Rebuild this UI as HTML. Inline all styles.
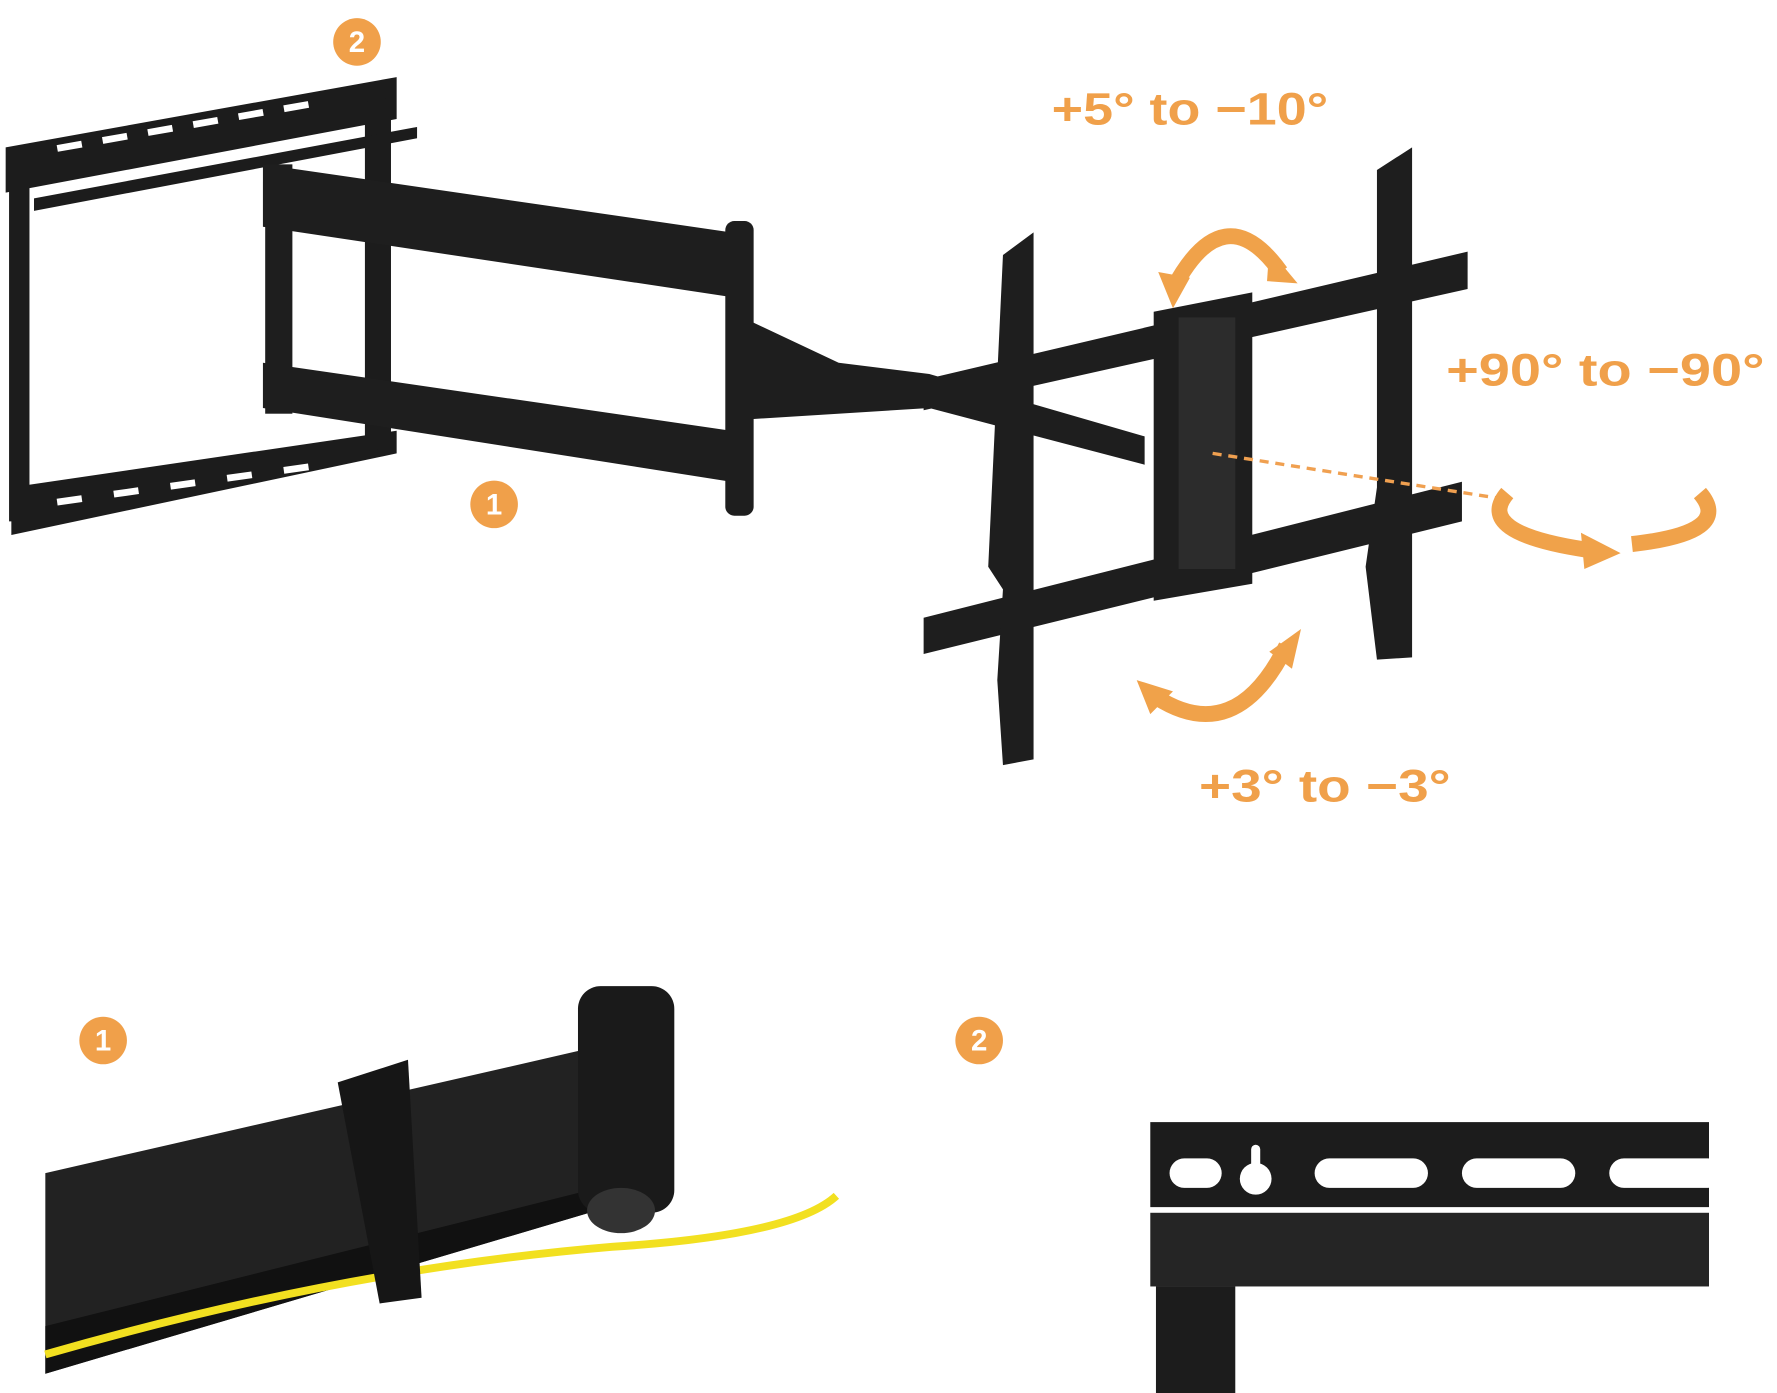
<!DOCTYPE html>
<html><head><meta charset="utf-8"><style>
html,body{margin:0;padding:0;background:#fff;width:1777px;height:1393px;overflow:hidden}
svg{display:block}
text{font-family:"Liberation Sans",sans-serif;font-weight:bold}
</style></head><body>
<svg width="1777" height="1393" viewBox="0 0 1568 1229" preserveAspectRatio="none" xmlns="http://www.w3.org/2000/svg">
<rect width="1568" height="1229" fill="#fff"/>
<g fill="#1c1c1c">
<polygon points="5,130 350,68 350,105 5,170"/>
<polygon points="10,430 350,380 350,400 10,472"/>
<rect x="8" y="160" width="18" height="300"/>
<polygon points="322,90 345,86 345,395 322,398"/>
<polygon points="30,175 368,112 368,122 30,186"/>
</g>
<g fill="#fff">
<rect x="50" y="128" width="22" height="6" transform="rotate(-10 50 128)"/>
<rect x="90" y="121" width="22" height="6" transform="rotate(-10 90 121)"/>
<rect x="130" y="114" width="22" height="6" transform="rotate(-10 130 114)"/>
<rect x="170" y="107" width="22" height="6" transform="rotate(-10 170 107)"/>
<rect x="210" y="100" width="22" height="6" transform="rotate(-10 210 100)"/>
<rect x="250" y="93" width="22" height="6" transform="rotate(-10 250 93)"/>
<rect x="50" y="440" width="22" height="6" transform="rotate(-8 50 440)"/>
<rect x="100" y="433" width="22" height="6" transform="rotate(-8 100 433)"/>
<rect x="150" y="426" width="22" height="6" transform="rotate(-8 150 426)"/>
<rect x="200" y="419" width="22" height="6" transform="rotate(-8 200 419)"/>
<rect x="250" y="412" width="22" height="6" transform="rotate(-8 250 412)"/>
</g>
<g fill="#1e1e1e">
<polygon points="232,145 645,205 645,262 232,200"/>
<polygon points="232,320 645,380 645,425 232,360"/>
<rect x="234" y="145" width="24" height="220"/>
<rect x="640" y="195" width="25" height="260" rx="8"/>
<polygon points="655,280 740,320 820,330 1010,385 1010,410 820,360 660,370"/>
</g>
<g fill="#1e1e1e">
<polygon points="815,335 1295,222 1295,255 815,362"/>
<polygon points="815,545 1290,425 1290,460 815,577"/>
<polygon points="885,225 912,205 912,670 885,675 880,600 885,520 872,500"/>
<polygon points="1215,150 1246,130 1246,580 1215,582 1205,500 1215,430"/>
<polygon points="1018,275 1105,258 1105,515 1018,530"/>
</g>
<rect x="1040" y="280" width="50" height="222" fill="#2c2c2c"/>
<line x1="1070" y1="400" x2="1325" y2="440" stroke="#f0a050" stroke-width="3" stroke-dasharray="8,6"/>
<g fill="none" stroke="#f0a24a" stroke-width="14">
<path d="M1035,255 Q1080,170 1130,240"/>
<path d="M1020,615 Q1090,660 1135,570"/>
<path d="M1330,435 Q1300,470 1400,485"/>
<path d="M1440,480 Q1530,470 1500,435"/>
</g>
<g fill="#f0a24a">
<polygon points="1022,240 1050,245 1035,272"/>
<polygon points="1120,220 1145,250 1118,248"/>
<polygon points="1003,600 1035,610 1015,630"/>
<polygon points="1148,555 1140,590 1120,575"/>
<polygon points="1395,470 1430,488 1398,502"/>
</g>
<text x="928" y="110" font-size="40" fill="#f0a04a" textLength="244" lengthAdjust="spacingAndGlyphs">+5° to −10°</text>
<text x="1276" y="340" font-size="40" fill="#f0a04a" textLength="281" lengthAdjust="spacingAndGlyphs">+90° to −90°</text>
<text x="1058" y="707" font-size="40" fill="#f0a04a" textLength="222" lengthAdjust="spacingAndGlyphs">+3° to −3°</text>
<g fill="#f0a04a"><circle cx="315" cy="37" r="21"/><circle cx="436" cy="445" r="21"/><circle cx="91" cy="918" r="21"/><circle cx="864" cy="918" r="21"/></g>
<g fill="#fff" font-size="26" text-anchor="middle">
<text x="315" y="46">2</text><text x="436" y="454">1</text><text x="91" y="927">1</text><text x="864" y="927">2</text></g>
<polygon points="40,1035 520,925 520,1070 40,1212" fill="#222"/>
<polygon points="40,1170 520,1050 520,1070 40,1212" fill="#111"/>
<path d="M40,1195 Q300,1120 540,1100 Q700,1090 738,1055" stroke="#f2e020" stroke-width="7" fill="none"/>
<rect x="510" y="870" width="85" height="200" rx="20" fill="#1a1a1a"/>
<ellipse cx="548" cy="1068" rx="30" ry="20" fill="#333"/>
<polygon points="298,955 360,935 372,1145 335,1150" fill="#161616"/>
<rect x="1015" y="990" width="493" height="75" fill="#1c1c1c"/>
<g fill="#fff">
<rect x="1032" y="1022" width="46" height="26" rx="13"/>
<circle cx="1108" cy="1040" r="14"/><rect x="1104" y="1010" width="8" height="25" rx="4"/>
<rect x="1160" y="1022" width="100" height="26" rx="13"/>
<rect x="1290" y="1022" width="100" height="26" rx="13"/>
<rect x="1420" y="1022" width="100" height="26" rx="13"/>
</g>
<rect x="1015" y="1070" width="493" height="65" fill="#252525"/>
<rect x="1020" y="1135" width="70" height="94" fill="#1c1c1c"/>
</svg>
</body></html>
